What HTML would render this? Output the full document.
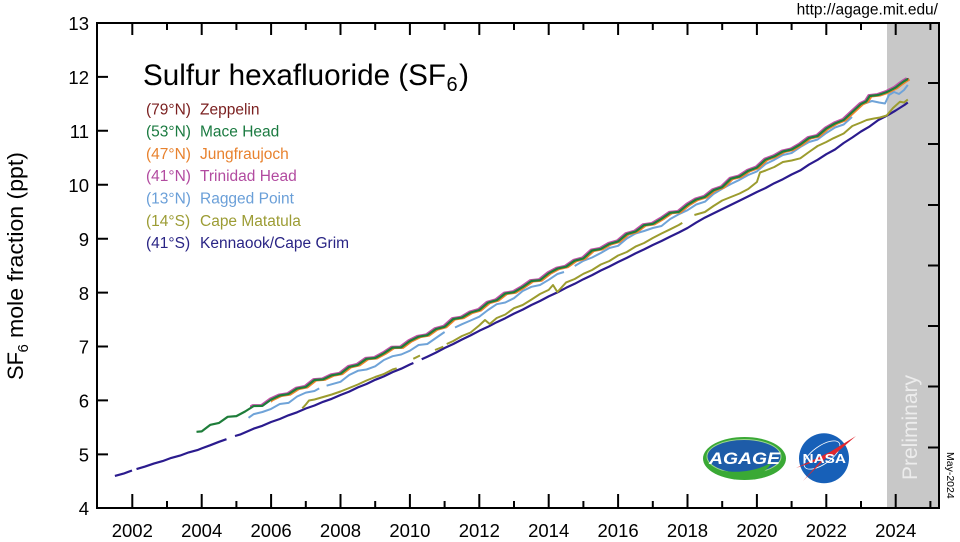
<!DOCTYPE html>
<html><head><meta charset="utf-8"><style>
html,body{margin:0;padding:0;background:#fff;}
svg{display:block;font-family:"Liberation Sans",sans-serif;}
</style></head><body>
<svg width="960" height="542" viewBox="0 0 960 542" xmlns="http://www.w3.org/2000/svg">
<defs>
<path id="top" d="M196.5,431.8 L201.7,431.4 L210.4,424.8 L219.1,422.9 L227.7,416.8 L236.4,416.1 L245.1,411.5 L253.8,406.0 L262.4,405.9 L271.1,399.6 L279.8,395.5 L288.5,394.1 L297.1,388.6 L305.8,386.9 L314.5,380.0 L323.2,379.4 L331.8,375.3 L340.5,373.7 L349.2,366.9 L357.9,364.9 L366.5,358.8 L375.2,358.0 L383.9,353.3 L392.6,347.6 L401.2,347.4 L409.9,341.0 L418.6,336.7 L427.3,335.2 L435.9,329.1 L444.6,326.8 L453.3,319.0 L462.0,317.6 L470.6,312.5 L479.3,310.0 L488.0,302.7 L496.7,300.2 L505.3,293.5 L514.0,292.2 L522.7,287.1 L531.4,281.0 L540.0,280.2 L548.7,273.3 L557.4,268.6 L566.1,266.7 L574.7,260.7 L583.4,258.4 L592.1,250.5 L600.8,248.9 L609.4,243.9 L618.1,241.4 L626.8,234.1 L635.5,231.6 L644.1,225.1 L652.8,223.9 L661.5,218.8 L670.2,212.8 L678.8,211.9 L687.5,204.8 L696.2,199.5 L704.9,196.9 L713.5,190.2 L722.2,187.2 L730.9,178.7 L739.6,176.5 L748.2,170.8 L756.9,167.6 L765.6,159.6 L774.3,156.4 L782.9,151.5 L791.6,149.5 L800.3,144.5 L809.0,138.0 L817.6,136.0 L826.3,128.5 L835.0,123.5 L843.7,120.0 L852.3,112.0 L861.0,104.0 L866.2,101.5 L869.7,96.0 L878.4,95.0 L887.0,92.0 L895.7,87.5 L900.9,83.5 L904.4,81.0 L907.8,79.0"/>
<clipPath id="cPink"><rect x="250" y="0" width="710" height="542"/></clipPath>
<clipPath id="cOrange"><rect x="271" y="0" width="690" height="542"/></clipPath>
<clipPath id="cMaroon"><rect x="436" y="0" width="524" height="542"/></clipPath>
</defs>
<rect x="0" y="0" width="960" height="542" fill="#fff"/>
<rect x="887" y="23" width="52" height="485" fill="#c8c8c8"/>

<g fill="none" stroke-linejoin="round" stroke-width="2">
<!-- Kennaook/Cape Grim -->
<path stroke="#2b1b8e" stroke-width="2.2" d="M114.9,475.9 L123.6,473.6 L132,470.5 M136.5,469.1 L145,466.6 L153.8,463.6 L162.6,461.1 L171.3,457.9 L180,455.6 L188.7,452.4 L197.4,450.1 L201.7,448.4 L210.4,445.2 L219,441.8 L226.5,439.2 M235,436.0 L240,434.6 L253.8,428.6 L262.4,425.8 L271.1,422.0 L279.8,419.0 L288.5,415.3 L297.1,412.3 L305.8,408.5 L314.5,405.5 L323.2,401.8 L331.8,398.8 L340.5,395.0 L349.2,391.6 L357.9,387.4 L366.5,384.0 L375.2,379.8 L383.9,376.4 L392.6,372.1 L401.2,368.7 L409.9,364.5 L413.4,363.0 M421.7,359.3 L427.3,356.7 L435.9,352.6 L444.6,348.0 L453.3,344.0 L462.0,339.5 L470.6,335.4 L479.3,330.8 L488.0,326.8 L496.7,322.2 L505.3,318.2 L514.0,313.6 L522.7,309.6 L531.4,305.0 L540.0,301.0 L548.7,296.4 L557.4,292.4 L566.1,287.8 L574.7,283.8 L583.4,279.2 L592.1,275.1 L600.8,270.5 L609.4,266.5 L618.1,262.0 L626.8,257.9 L635.5,253.4 L644.1,249.4 L652.8,245.0 L661.5,241.0 L670.2,236.6 L678.8,232.5 L687.5,228.0 L696.2,222.6 L704.9,217.6 L713.5,213.4 L722.2,209.1 L730.9,204.9 L739.6,200.6 L748.2,196.4 L756.9,192.0 L765.6,188.0 L774.3,183.2 L782.9,179.2 L791.6,174.5 L800.3,170.4 L809.0,164.6 L817.6,159.8 L826.3,154.2 L835.0,149.5 L843.7,143.0 L852.3,137.5 L861.0,131.5 L869.7,126.4 L878.4,120.0 L887.0,115.6 L895.7,110.5 L904.4,105.0 L907.8,102.5"/>
<!-- Cape Matatula -->
<path stroke="#9c9c2e" d="M302.3,408.3 L305.8,404.5 L309,400.5 L314.5,399.5 L323.2,397.0 L331.8,394.5 L340.5,391.5 L349.2,388.0 L357.9,384.5 L366.5,380.5 L375.2,377.0 L383.9,374.0 L392.6,369.5 L396.7,368.3 M413.3,358.8 L420,355.5 M435,350 L443.3,346.7 M446.7,344 L453.3,341.0 L462.0,336.0 L470.6,332.5 L479.3,325.4 L485,320 L489.7,324 L496.7,318.0 L505.3,314.5 L514.0,308.2 L522.7,305.0 L531.4,299.6 L540.0,294.0 L548.7,289.9 L553,285 L557.4,292.0 L566.1,282.4 L574.7,279.0 L583.4,273.8 L592.1,270.0 L600.8,264.5 L609.4,261.0 L618.1,255.5 L626.8,252.0 L635.5,246.6 L644.1,243.0 L652.8,238.0 L661.5,233.5 L670.2,229.3 L678.8,225.0 L682.3,222.9 M694.4,215.0 L704.9,212.0 L713.5,206.0 L722.2,200.5 L730.9,197.0 L739.6,193.5 L748.2,189.0 L756.9,182.0 L760,172.5 L765.6,170.5 L774.3,167.0 L782.9,162.0 L791.6,160.5 L800.3,158.3 L809.0,152.0 L817.6,146.0 L826.3,142.0 L833.3,138.3 L843.7,133.5 L852.3,126.0 L861.0,122.5 L866.7,120.0 L874,118.5 L880,117.5 L886.7,115.5 L893,108 L900,101.7 L904,102.5 L907.8,99.5"/>
<!-- Ragged Point -->
<path stroke="#6fa3d8" d="M248.5,417.8 L253.8,414.1 L262.4,412.0 L271.1,408.9 L279.8,404.0 L288.5,402.9 L297.1,396.5 L305.8,392.6 L314.5,391.0 L319.2,388.4 M326.6,385.7 L340.5,381.8 L349.2,375.0 L357.9,370.8 L366.5,369.5 L375.2,366.3 L383.9,360.0 L392.6,356.2 L401.2,354.5 L409.9,350.7 L418.6,345.0 L427.3,344.0 L435.9,338.0 L444.6,332.0 M455.0,327.5 L462.0,324.2 L470.6,320.5 L479.3,316.7 L488.0,310.0 L496.7,304.2 L505.3,302.5 L514.0,298.2 L522.7,291.0 L531.4,286.8 L540.0,285.0 L548.7,279.8 L557.4,274.0 L564.0,272.0 M574.7,266.0 L583.4,260.8 L592.1,257.5 L600.8,253.0 L609.4,248.0 L618.1,245.8 L626.8,238.5 L635.5,233.5 L644.1,231.0 L652.8,228.0 L661.5,226.0 L670.2,219.0 L678.8,214.2 L687.5,210.2 L696.2,204.5 L704.9,201.7 L713.5,194.0 L722.2,188.8 L730.9,184.0 L739.6,179.8 L748.2,175.0 L756.9,171.4 L765.6,164.0 L774.3,159.8 L782.9,155.0 L791.6,153.0 L800.3,147.0 L809.0,142.0 L817.6,139.5 L826.3,133.0 L835.0,127.5 L843.7,124.5 L852.0,117.0 M858.5,104.5 L866,103 L872,101 L879,102.5 L885,103.5 L889,95 L894,92 L899,94 L904,90 L907.8,85"/>
<!-- Zeppelin -->
<g clip-path="url(#cMaroon)"><use href="#top" transform="translate(0.8,-0.3)" stroke="#5a1010"/></g>
<!-- Jungfraujoch -->
<g clip-path="url(#cOrange)"><use href="#top" transform="translate(1.8,0.5)" stroke="#f0852d"/></g>
<!-- Trinidad Head -->
<g clip-path="url(#cPink)"><use href="#top" transform="translate(-1.2,-0.9)" stroke="#c250a8"/></g>
<!-- Mace Head -->
<use href="#top" stroke="#1e7d3a" stroke-width="2.2"/>
</g>

<path stroke="#000" stroke-width="2" fill="none" d="M132.3,508V494M167,508V501M201.7,508V494M236.4,508V501M271.1,508V494M305.8,508V501M340.5,508V494M375.2,508V501M409.9,508V494M444.6,508V501M479.3,508V494M514,508V501M548.7,508V494M583.4,508V501M618.1,508V494M652.8,508V501M687.5,508V494M722.2,508V501M756.9,508V494M791.6,508V501M826.3,508V494M861,508V501M895.7,508V494M930.4,508V501
M132.3,23V35M167,23V30M201.7,23V35M236.4,23V30M271.1,23V35M305.8,23V30M340.5,23V35M375.2,23V30M409.9,23V35M444.6,23V30M479.3,23V35M514,23V30M548.7,23V35M583.4,23V30M618.1,23V35M652.8,23V30M687.5,23V35M722.2,23V30M756.9,23V35M791.6,23V30M826.3,23V35M861,23V30M895.7,23V35M930.4,23V30
M97,76.9H108M97,130.8H108M97,184.8H108M97,238.7H108M97,292.6H108M97,346.5H108M97,400.4H108M97,454.4H108
M939,83H928M939,144H928M939,205H928M939,265.5H928M939,326H928M939,386.5H928M939,447.5H928"/>
<rect x="97" y="23" width="842" height="485" fill="none" stroke="#000" stroke-width="2"/>

<g font-size="18.5" fill="#000" text-anchor="end">
<text x="89" y="30">13</text>
<text x="89" y="84">12</text>
<text x="89" y="138">11</text>
<text x="89" y="192">10</text>
<text x="89" y="246">9</text>
<text x="89" y="300">8</text>
<text x="89" y="353.5">7</text>
<text x="89" y="407.5">6</text>
<text x="89" y="461.5">5</text>
<text x="89" y="515">4</text>
</g>
<g font-size="18.5" fill="#000" text-anchor="middle">
<text x="132.3" y="537">2002</text>
<text x="201.7" y="537">2004</text>
<text x="271.1" y="537">2006</text>
<text x="340.5" y="537">2008</text>
<text x="409.9" y="537">2010</text>
<text x="479.3" y="537">2012</text>
<text x="548.7" y="537">2014</text>
<text x="618.1" y="537">2016</text>
<text x="687.5" y="537">2018</text>
<text x="756.9" y="537">2020</text>
<text x="826.3" y="537">2022</text>
<text x="895.7" y="537">2024</text>
</g>

<text x="938" y="14.5" font-size="15.5" text-anchor="end" fill="#000">http://agage.mit.edu/</text>
<text transform="translate(947,452) rotate(90)" font-size="10.5" fill="#000">May-2024</text>
<text transform="translate(917,480) rotate(-90)" font-size="21" fill="#ececec">Preliminary</text>

<text x="143" y="85" font-size="30" textLength="303" lengthAdjust="spacingAndGlyphs" fill="#000">Sulfur hexafluoride (SF</text>
<text x="446.5" y="91" font-size="20" fill="#000">6</text>
<text x="459" y="85" font-size="30" fill="#000">)</text>

<g transform="translate(23,380) rotate(-90)" fill="#000">
<text x="0" y="0" font-size="22">SF</text>
<text x="27.5" y="5" font-size="15">6</text>
<text x="42" y="0" font-size="22" textLength="186" lengthAdjust="spacingAndGlyphs">mole fraction (ppt)</text>
</g>

<g font-size="15.5">
<text x="146" y="114.3" fill="#7a1f1f">(79°N)</text><text x="200" y="114.3" fill="#7a1f1f">Zeppelin</text>
<text x="146" y="136.6" fill="#1a7a40">(53°N)</text><text x="200" y="136.6" fill="#1a7a40">Mace Head</text>
<text x="146" y="158.9" fill="#e8822e">(47°N)</text><text x="200" y="158.9" fill="#e8822e">Jungfraujoch</text>
<text x="146" y="181.2" fill="#b24ba0">(41°N)</text><text x="200" y="181.2" fill="#b24ba0">Trinidad Head</text>
<text x="146" y="203.5" fill="#6a9fd8">(13°N)</text><text x="200" y="203.5" fill="#6a9fd8">Ragged Point</text>
<text x="146" y="225.8" fill="#9c9c34">(14°S)</text><text x="200" y="225.8" fill="#9c9c34">Cape Matatula</text>
<text x="146" y="248.1" fill="#2a2585">(41°S)</text><text x="200" y="248.1" fill="#2a2585">Kennaook/Cape Grim</text>
</g>

<!-- AGAGE logo -->
<g>
<ellipse cx="744.5" cy="458.5" rx="41.5" ry="21.5" fill="#3aa935"/>
<ellipse cx="744" cy="456.5" rx="37" ry="17" fill="#1e5ca8" stroke="#9ed68e" stroke-width="1"/>
<path d="M712,468 C735,476 760,470 772,462 C768,470 758,478 744,479 C730,479 718,474 712,468 Z" fill="#3aa935"/>
<text x="709" y="464" font-size="17" font-weight="bold" font-style="italic" fill="#fff" textLength="71" lengthAdjust="spacingAndGlyphs">AGAGE</text>
</g>
<!-- NASA logo -->
<g>
<circle cx="824" cy="458.3" r="25" fill="#1760b8"/>
<ellipse cx="822" cy="455" rx="21" ry="9" fill="none" stroke="#fff" stroke-width="0.8" transform="rotate(-35 822 455)"/>
<path d="M796,468 L830,452 L856,436 L834,455 Z" fill="#e0262e"/>
<path d="M803,481 L826,455 L828,456 Z" fill="#e0262e"/>
<text x="802.5" y="463" font-size="13" font-weight="bold" fill="#fff" textLength="43.5" lengthAdjust="spacingAndGlyphs">NASA</text>
</g>
</svg>
</body></html>
